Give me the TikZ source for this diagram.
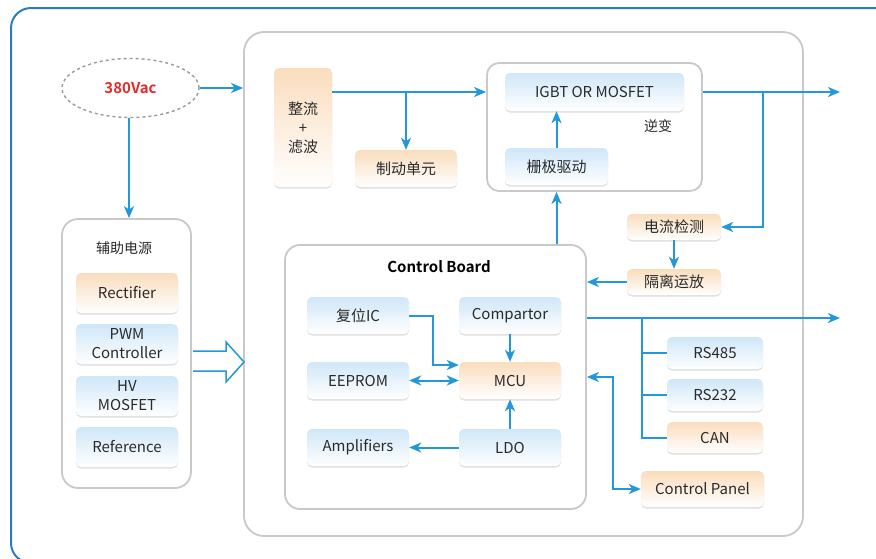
\documentclass[tikz,border=0pt]{standalone}
\usepackage{fontspec}
\setmainfont{Noto Sans CJK SC}[BoldFont={Noto Sans CJK SC Bold}]
\usetikzlibrary{arrows.meta,shapes.geometric,shadows}
\definecolor{arrowblue}{HTML}{2398D8}
\definecolor{frameblue}{HTML}{2E7BC4}
\definecolor{boxgray}{HTML}{C9C9C9}
\definecolor{topblue}{HTML}{CFE7F8}
\definecolor{toporange}{HTML}{FADDBD}
\definecolor{txt}{HTML}{2A2A2A}
\definecolor{vacred}{HTML}{E52A2A}
\tikzset{
  blk/.style={rounded corners=5pt,align=center,inner sep=1pt,text=txt,
    font=\fontsize{15}{19}\selectfont,
    drop shadow={opacity=0.25,shadow xshift=0pt,shadow yshift=-1.5pt}},
  bluebox/.style={blk,top color=topblue,bottom color=white},
  orgbox/.style={blk,top color=toporange,bottom color=white},
  grp/.style={draw=boxgray,line width=1.8pt,fill=white,rounded corners=#1},
  ar/.style={->,draw=arrowblue,line width=2pt},
}
\begin{document}
\begin{tikzpicture}[x=1pt,y=-1pt,>={Stealth[length=12pt,width=10pt,inset=3.5pt]}]
\useasboundingbox (0,0) rectangle (876,558);
\begin{scope}
\clip (0,0) rectangle (876,558);
\draw[frameblue,line width=2pt,rounded corners=20pt] (11,8) rectangle (900,563);
\end{scope}

\node[grp=20pt,minimum width=559pt,minimum height=504pt] (main) at (523.5,284) {};
\node[ellipse,draw=gray!80,dashed,line width=1.4pt,minimum width=137pt,minimum height=59pt,
  text=vacred,font=\fontsize{15}{18}\selectfont\bfseries] (vac) at (130.5,88) {380Vac};

\node[grp=16pt,minimum width=129pt,minimum height=269pt] (aux) at (126.5,353.5) {};
\node[text=txt,font=\fontsize{14}{17}\selectfont] (auxt) at (124,248) {辅助电源};
\node[orgbox,minimum width=102pt,minimum height=40pt] (rect) at (127,293) {Rectifier};
\node[bluebox,minimum width=102pt,minimum height=40pt] (pwm) at (127,344) {PWM\\Controller};
\node[bluebox,minimum width=102pt,minimum height=40pt] (hv) at (127,396) {HV\\MOSFET};
\node[bluebox,minimum width=102pt,minimum height=40pt] (ref) at (127,447) {Reference};
\draw[arrowblue,line width=1.5pt] (193,351) -- (226,351) -- (226,342) -- (244,362)
  -- (226,382) -- (226,371) -- (193,371);

\node[orgbox,minimum width=58pt,minimum height=119pt] (zl) at (303,127.5) {整流\\+\\滤波};
\node[orgbox,minimum width=102pt,minimum height=37pt] (zd) at (406,168.5) {制动单元};

\node[grp=12pt,minimum width=215pt,minimum height=128pt] (inv) at (594.5,127) {};
\node[bluebox,minimum width=179pt,minimum height=38pt] (igbt) at (594.5,92) {IGBT OR MOSFET};
\node[bluebox,minimum width=103pt,minimum height=37pt] (gate) at (556.5,166.5) {栅极驱动};
\node[text=txt,font=\fontsize{14}{17}\selectfont] (invt) at (658,126) {逆变};

\node[orgbox,minimum width=94pt,minimum height=26pt] (idet) at (674,227) {电流检测};
\node[orgbox,minimum width=94pt,minimum height=26pt] (iso) at (674,282) {隔离运放};

\node[grp=15pt,minimum width=301pt,minimum height=264pt] (ctl) at (435.5,377) {};
\node[text=black,font=\fontsize{15}{18}\selectfont\bfseries] (ctlt) at (439,267) {Control Board};
\node[bluebox,minimum width=102pt,minimum height=37pt] (fuwei) at (358,315.5) {复位IC};
\node[bluebox,minimum width=102pt,minimum height=37pt] (comp) at (510,315.5) {Compartor};
\node[bluebox,minimum width=102pt,minimum height=37pt] (eeprom) at (358,380.5) {EEPROM};
\node[orgbox,minimum width=102pt,minimum height=37pt] (mcu) at (510,380.5) {MCU};
\node[bluebox,minimum width=102pt,minimum height=37pt] (amp) at (358,447.5) {Amplifiers};
\node[bluebox,minimum width=102pt,minimum height=37pt] (ldo) at (510,447.5) {LDO};

\node[bluebox,minimum width=96pt,minimum height=32pt] (rs485) at (715,353) {RS485};
\node[bluebox,minimum width=96pt,minimum height=32pt] (rs232) at (715,395) {RS232};
\node[orgbox,minimum width=96pt,minimum height=31pt] (can) at (715,437.5) {CAN};
\node[orgbox,minimum width=123pt,minimum height=36pt] (panel) at (702.5,489) {Control Panel};

\coordinate (out1) at (840,92);
\coordinate (br1) at (763,92);
\coordinate (brk) at (406,92);
\coordinate (out2) at (840,318);
\coordinate (bus) at (642,318);
\coordinate (bend) at (613,377);

\draw[ar] (vac.east) -- (vac.east -| main.west);
\draw[ar] ([xshift=-1.5pt]vac.south) -- ([xshift=-1.5pt]vac.south |- aux.north);
\draw[ar] (zl.east |- igbt) -- (inv.west |- igbt);
\draw[ar] (brk) -- (zd.north);
\draw[ar] (gate.north) -- (gate.north |- igbt.south);
\draw[ar] (ctl.north -| gate) -- (inv.south -| gate);
\draw[ar] (inv.east |- igbt) -- (out1);
\draw[ar] (br1) |- (idet.east);
\draw[ar] (idet) -- (iso);
\draw[ar] (iso.west) -- (iso.west -| ctl.east);
\draw[ar] (out2 -| ctl.east) -- (out2);
\draw[arrowblue,line width=2pt] (bus) |- (can.west);
\draw[arrowblue,line width=2pt] (bus |- rs485) -- (rs485.west);
\draw[arrowblue,line width=2pt] (bus |- rs232) -- (rs232.west);
\draw[ar,<->] (bend -| ctl.east) -- (bend) |- (panel.west);

\draw[ar] (fuwei.east) -- ++(24,0) |- ([yshift=15.5pt]mcu.west);
\draw[ar,<->] (eeprom) -- (mcu);
\draw[ar] (comp) -- (mcu);
\draw[ar] (ldo) -- (mcu);
\draw[ar] (ldo) -- (amp);

\end{tikzpicture}
\end{document}
